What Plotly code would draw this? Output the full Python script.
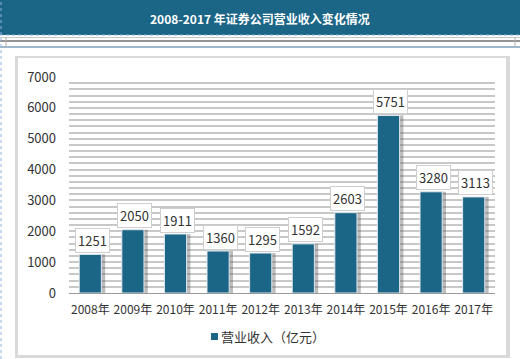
import plotly.graph_objects as go

years = ["2008年", "2009年", "2010年", "2011年", "2012年", "2013年", "2014年", "2015年", "2016年", "2017年"]
revenue = [1251, 2050, 1911, 1360, 1295, 1592, 2603, 5751, 3280, 3113]
title_text = "2008-2017 年证券公司营业收入变化情况"
series_name = "营业收入（亿元）"

W, H = 520, 359
L, R, T, B = 69, 495, 77, 293


def px(x):
    return (x - L) / (R - L)


def py(y):
    return (B - y) / (B - T)


FONT = "Noto Sans CJK SC"
BAR = "#1b6586"

fig = go.Figure()
# shadow bars
fig.add_trace(go.Bar(x=years, y=revenue, width=0.52, offset=-0.26 + 0.09,
                     marker=dict(color="rgba(90,90,90,0.4)", line=dict(width=0)),
                     showlegend=False, hoverinfo="skip"))
fig.add_trace(go.Bar(x=years, y=revenue, width=0.52, offset=-0.26, name=series_name,
                     showlegend=False,
                     marker=dict(color=BAR, line=dict(color="#dfe7ee", width=1))))

shapes = []
# card shadow + card
shapes.append(dict(type="rect", xref="paper", yref="paper", x0=px(15), x1=px(510), y0=py(358), y1=py(56),
                   fillcolor="#d9d9d9", line=dict(width=0), layer="below"))
shapes.append(dict(type="rect", xref="paper", yref="paper", x0=px(18), x1=px(506), y0=py(355), y1=py(58),
                   fillcolor="white", line=dict(width=0), layer="below"))
# header bar
shapes.append(dict(type="rect", xref="paper", yref="paper", x0=px(0), x1=px(520), y0=py(35), y1=py(0),
                   fillcolor="#1b6586", line=dict(width=0)))
shapes.append(dict(type="line", xref="paper", yref="paper", x0=px(0), x1=px(520), y0=py(35), y1=py(35),
                   line=dict(color="#8fb4e0", width=1, dash="dot")))
# thin band below header
shapes.append(dict(type="line", xref="paper", yref="paper", x0=px(0), x1=px(520), y0=py(37.5), y1=py(37.5),
                   line=dict(color="#c8c8c8", width=1)))
shapes.append(dict(type="line", xref="paper", yref="paper", x0=px(0), x1=px(520), y0=py(41), y1=py(41),
                   line=dict(color="#707070", width=1.5)))
shapes.append(dict(type="line", xref="paper", yref="paper", x0=px(0), x1=px(520), y0=py(47), y1=py(47),
                   line=dict(color="#7f9fb8", width=1.5)))
shapes.append(dict(type="line", xref="paper", yref="paper", x0=px(6), x1=px(6), y0=py(37), y1=py(47),
                   line=dict(color="#b0b0b0", width=1)))
shapes.append(dict(type="line", xref="paper", yref="paper", x0=px(515), x1=px(515), y0=py(37), y1=py(47),
                   line=dict(color="#b0b0b0", width=1)))
# left dashed border
shapes.append(dict(type="line", xref="paper", yref="paper", x0=px(1), x1=px(1), y0=py(359), y1=py(0),
                   line=dict(color="#8fb4e0", width=1, dash="dot")))
# legend swatch
shapes.append(dict(type="rect", xref="paper", yref="paper", x0=px(211), x1=px(218), y0=py(340), y1=py(333),
                   fillcolor=BAR, line=dict(width=0)))

annotations = [dict(text=f"<b>{title_text}</b>", xref="paper", yref="paper", x=px(260), y=py(18),
                    xanchor="center", yanchor="middle",
                    showarrow=False, font=dict(family=FONT, size=12, color="white")),
               dict(text=series_name, xref="paper", yref="paper", x=px(219), y=py(336),
                    xanchor="left", yanchor="middle", showarrow=False,
                    font=dict(family=FONT, size=13, color="#333"))]
for yr, v in zip(years, revenue):
    annotations.append(dict(x=yr, y=v, xref="x", yref="y", text=str(v), showarrow=False,
                            yshift=14, xshift=2, bgcolor="white", bordercolor="#cfcfcf", borderwidth=1, borderpad=2,
                            font=dict(family=FONT, size=13, color="#333")))

fig.update_layout(
    width=W, height=H, margin=dict(l=L, r=W - R, t=T, b=H - B, autoexpand=False),
    paper_bgcolor="white", plot_bgcolor="#e9f0f6",
    barmode="overlay", bargap=0.45, showlegend=False,
    font=dict(family=FONT, size=13, color="#333"),
    shapes=shapes, annotations=annotations,
    xaxis=dict(showgrid=False, showline=True, linecolor="#9a9a9a", linewidth=1, ticks="",
               tickangle=0, automargin=False, ticklabelstandoff=6,
               tickfont=dict(family=FONT, size=12, color="#333")),
    yaxis=dict(range=[0, 7000], dtick=1000, showgrid=True, gridcolor="#c8c8c8", gridwidth=2,
               zeroline=False, showline=False,
               ticks="", ticklabelstandoff=12, automargin=False,
               tickfont=dict(family=FONT, size=13, color="#333"),
               minor=dict(dtick=200, showgrid=True, gridcolor="#c8c8c8", gridwidth=2)),
)

fig.write_html("out.html", config={"displayModeBar": False},
               post_script="document.body.style.margin='0';document.body.style.overflow='hidden';")
